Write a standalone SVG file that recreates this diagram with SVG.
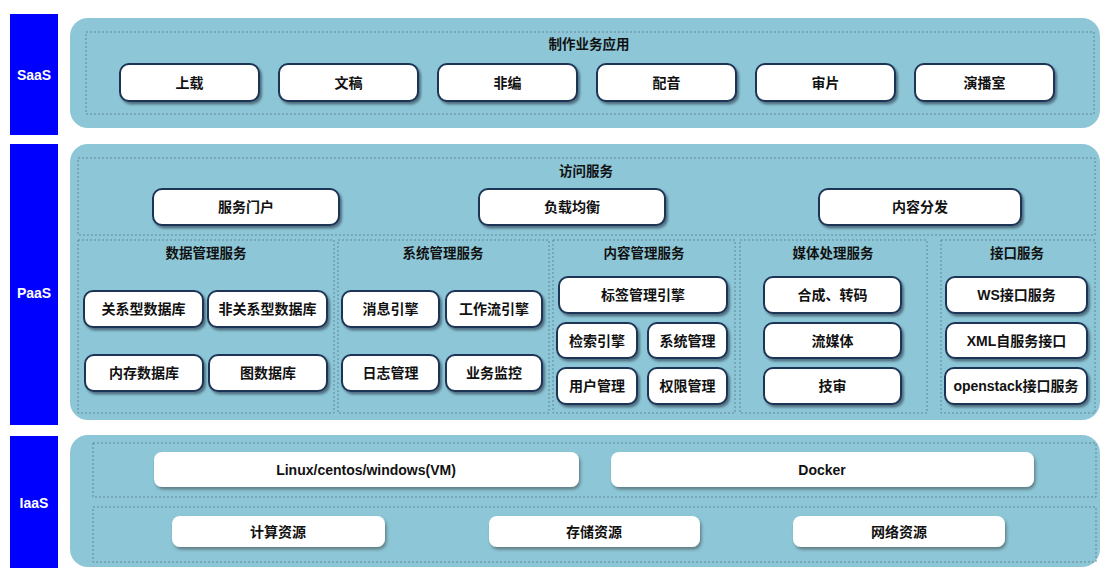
<svg xmlns="http://www.w3.org/2000/svg" width="1100" height="568" viewBox="0 0 1100 568">
<defs>
<filter id="sh" x="-10%" y="-20%" width="130%" height="160%">
<feDropShadow dx="2" dy="2.5" stdDeviation="1.2" flood-color="#1a2a3a" flood-opacity="0.55"/>
</filter>
<filter id="sh2" x="-10%" y="-20%" width="130%" height="160%">
<feDropShadow dx="1.5" dy="2.5" stdDeviation="1.5" flood-color="#333" flood-opacity="0.5"/>
</filter>
<style>
.bar{fill:#0000ff}
.barT{fill:#fff;font-family:"Liberation Sans","Noto Sans",sans-serif;font-weight:bold;font-size:14px;text-anchor:middle}
.panel{fill:#8dc7d7}
.dash{fill:none;stroke:#5b7f90;stroke-width:0.9;stroke-dasharray:2 2}
.box{fill:#fff;stroke:#1f3556;stroke-width:2;filter:url(#sh)}
.ibox{fill:#fff;filter:url(#sh2)}
.t{fill:#111;font-family:"Liberation Sans","Noto Sans CJK SC",sans-serif;font-weight:bold;font-size:14px;text-anchor:middle;dominant-baseline:central}
.h{fill:#111;font-family:"Liberation Sans","Noto Sans CJK SC",sans-serif;font-weight:bold;font-size:13.5px;text-anchor:middle;dominant-baseline:central}
</style>
</defs>
<rect width="1100" height="568" fill="#fff"/>

<!-- layer bars -->
<g id="saas-bar"><rect class="bar" x="10" y="14" width="48" height="121"/><text class="barT" x="34" y="80">SaaS</text></g>
<g id="paas-bar"><rect class="bar" x="10" y="144" width="48" height="281"/><text class="barT" x="34" y="298">PaaS</text></g>
<g id="iaas-bar"><rect class="bar" x="10" y="436" width="48" height="132"/><text class="barT" x="34" y="508">IaaS</text></g>

<!-- panels -->
<rect class="panel" x="70" y="18" width="1030" height="110" rx="18"/>
<rect class="panel" x="70" y="144" width="1030" height="276" rx="18"/>
<rect class="panel" x="70" y="435" width="1030" height="132" rx="18"/>

<!-- SaaS -->
<g id="saas-apps">
<rect class="dash" x="86" y="32" width="1008" height="82"/>
<text class="h" x="589" y="44">制作业务应用</text>
</g>
<g id="n-upload"><rect class="box" x="120" y="64" width="139" height="37" rx="9"/><text class="t" x="189.5" y="82.5">上载</text></g>
<g id="n-doc"><rect class="box" x="279" y="64" width="139" height="37" rx="9"/><text class="t" x="348.5" y="82.5">文稿</text></g>
<g id="n-edit"><rect class="box" x="438" y="64" width="139" height="37" rx="9"/><text class="t" x="507.5" y="82.5">非编</text></g>
<g id="n-dub"><rect class="box" x="597" y="64" width="139" height="37" rx="9"/><text class="t" x="666.5" y="82.5">配音</text></g>
<g id="n-review"><rect class="box" x="756" y="64" width="139" height="37" rx="9"/><text class="t" x="825.5" y="82.5">审片</text></g>
<g id="n-studio"><rect class="box" x="915" y="64" width="139" height="37" rx="9"/><text class="t" x="984.5" y="82.5">演播室</text></g>

<!-- PaaS access -->
<g id="access">
<rect class="dash" x="78" y="158" width="1017" height="77"/>
<text class="h" x="586" y="171">访问服务</text>
</g>
<g id="n-portal"><rect class="box" x="153" y="189" width="186" height="36" rx="9"/><text class="t" x="246" y="207">服务门户</text></g>
<g id="n-lb"><rect class="box" x="479" y="189" width="186" height="36" rx="9"/><text class="t" x="572" y="207">负载均衡</text></g>
<g id="n-cdn"><rect class="box" x="819" y="189" width="202" height="36" rx="9"/><text class="t" x="920" y="207">内容分发</text></g>

<!-- data management -->
<g id="data-mgmt">
<rect class="dash" x="78" y="240" width="256" height="173"/>
<text class="h" x="206" y="253">数据管理服务</text>
</g>
<g id="n-rdb"><rect class="box" x="84" y="291" width="119" height="36" rx="9"/><text class="t" x="143.5" y="309">关系型数据库</text></g>
<g id="n-nosql"><rect class="box" x="208" y="291" width="119" height="36" rx="9"/><text class="t" x="267.5" y="309">非关系型数据库</text></g>
<g id="n-memdb"><rect class="box" x="85" y="355" width="118" height="36" rx="9"/><text class="t" x="144" y="373">内存数据库</text></g>
<g id="n-graphdb"><rect class="box" x="209" y="355" width="118" height="36" rx="9"/><text class="t" x="268" y="373">图数据库</text></g>

<!-- system management -->
<g id="sys-mgmt">
<rect class="dash" x="338" y="240" width="211" height="173"/>
<text class="h" x="443" y="253">系统管理服务</text>
</g>
<g id="n-msg"><rect class="box" x="342" y="291" width="97" height="36" rx="9"/><text class="t" x="390.5" y="309">消息引擎</text></g>
<g id="n-wf"><rect class="box" x="446" y="291" width="96" height="36" rx="9"/><text class="t" x="494" y="309">工作流引擎</text></g>
<g id="n-log"><rect class="box" x="342" y="355" width="97" height="36" rx="9"/><text class="t" x="390.5" y="373">日志管理</text></g>
<g id="n-mon"><rect class="box" x="446" y="355" width="96" height="36" rx="9"/><text class="t" x="494" y="373">业务监控</text></g>

<!-- content management -->
<g id="content-mgmt">
<rect class="dash" x="553" y="240" width="182" height="173"/>
<text class="h" x="644" y="253">内容管理服务</text>
</g>
<g id="n-tag"><rect class="box" x="559" y="277" width="168" height="36" rx="9"/><text class="t" x="643" y="295">标签管理引擎</text></g>
<g id="n-search"><rect class="box" x="557" y="323" width="80" height="35" rx="9"/><text class="t" x="597" y="340.5">检索引擎</text></g>
<g id="n-sysm"><rect class="box" x="648" y="323" width="79" height="35" rx="9"/><text class="t" x="687.5" y="340.5">系统管理</text></g>
<g id="n-user"><rect class="box" x="557" y="368" width="80" height="36" rx="9"/><text class="t" x="597" y="386">用户管理</text></g>
<g id="n-perm"><rect class="box" x="648" y="368" width="79" height="36" rx="9"/><text class="t" x="687.5" y="386">权限管理</text></g>

<!-- media processing -->
<g id="media">
<rect class="dash" x="740" y="240" width="187" height="173"/>
<text class="h" x="833" y="253">媒体处理服务</text>
</g>
<g id="n-transcode"><rect class="box" x="764" y="277" width="137" height="36" rx="9"/><text class="t" x="832.5" y="295">合成、转码</text></g>
<g id="n-stream"><rect class="box" x="764" y="323" width="137" height="35" rx="9"/><text class="t" x="832.5" y="340.5">流媒体</text></g>
<g id="n-qc"><rect class="box" x="764" y="368" width="137" height="36" rx="9"/><text class="t" x="832.5" y="386">技审</text></g>

<!-- interface -->
<g id="interface">
<rect class="dash" x="941" y="240" width="154" height="173"/>
<text class="h" x="1017" y="253">接口服务</text>
</g>
<g id="n-ws"><rect class="box" x="946" y="277" width="141" height="36" rx="9"/><text class="t" x="1016.5" y="295">WS接口服务</text></g>
<g id="n-xml"><rect class="box" x="946" y="323" width="141" height="35" rx="9"/><text class="t" x="1016.5" y="340.5">XML自服务接口</text></g>
<g id="n-openstack"><rect class="box" x="945" y="368" width="142" height="36" rx="9"/><text class="t" x="1016" y="386">openstack接口服务</text></g>

<!-- IaaS -->
<g id="iaas-virt"><rect class="dash" x="93" y="443" width="1003" height="54"/></g>
<g id="n-vm"><rect class="ibox" x="154" y="452" width="425" height="35" rx="8"/><text class="t" x="366" y="469.5">Linux/centos/windows(VM)</text></g>
<g id="n-docker"><rect class="ibox" x="611" y="452" width="423" height="35" rx="8"/><text class="t" x="822" y="469.5">Docker</text></g>
<g id="iaas-res"><rect class="dash" x="93" y="507" width="1003" height="55"/></g>
<g id="n-compute"><rect class="ibox" x="172" y="516" width="213" height="31" rx="8"/><text class="t" x="278" y="531.5">计算资源</text></g>
<g id="n-storage"><rect class="ibox" x="489" y="516" width="211" height="31" rx="8"/><text class="t" x="594" y="531.5">存储资源</text></g>
<g id="n-network"><rect class="ibox" x="793" y="516" width="212" height="31" rx="8"/><text class="t" x="899" y="531.5">网络资源</text></g>
</svg>
